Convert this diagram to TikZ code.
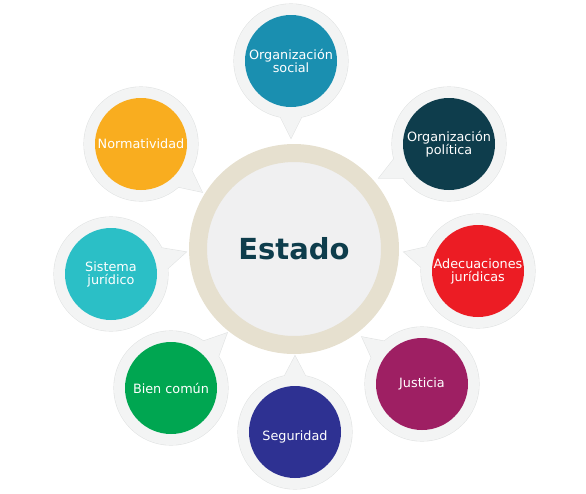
\documentclass[tikz,border=0pt]{standalone}
\usepackage{fontspec}
\setmainfont{DejaVu Sans}
\usetikzlibrary{calc}

\definecolor{bubblegray}{HTML}{F3F4F4}
\definecolor{edgegray}{HTML}{E2E4E4}
\definecolor{ringbeige}{HTML}{E6E0CF}
\definecolor{innergray}{HTML}{F0F0F1}
\definecolor{estadoblue}{HTML}{0E3D4C}
\definecolor{socblue}{HTML}{1A8FB0}
\definecolor{polblue}{HTML}{0E3D4C}
\definecolor{adecred}{HTML}{EC1C24}
\definecolor{justpurple}{HTML}{9E1F63}
\definecolor{segblue}{HTML}{2E3192}
\definecolor{biengreen}{HTML}{00A651}
\definecolor{sistcyan}{HTML}{2BBFC6}
\definecolor{normorange}{HTML}{F9AD1F}

\begin{document}
\begin{tikzpicture}[
    x=1pt, y=-1pt,
    bubble/.style={circle, minimum size=114pt, inner sep=0pt},
    topic/.style={circle, minimum size=92pt, inner sep=0pt, text=white, align=center, font=\fontsize{12.8}{13}\selectfont},
    hub/.style={circle, minimum size=192pt, inner sep=0pt, draw=ringbeige, line width=18pt, fill=innergray, text=estadoblue, font=\fontsize{29}{29}\selectfont\bfseries}
]
\useasboundingbox (0,0) rectangle (586,493);

% bubbles with tails
\foreach \s/\px/\py/\tx/\ty in {1/291/61/291/138, 2/449/144/379/178, 3/478/271/404/252, 4/422/384/362/337,
                                5/295/432/295/356, 6/171/388/227/333, 7/111/274/186/252, 8/141/144/202/192} {
  \coordinate (tip\s) at (\tx,\ty);
  \node[bubble, draw=edgegray, line width=1.2pt] (b\s) at (\px,\py) {};
  \draw[edgegray, line width=1.2pt] ($(b\s)!52pt!15:(tip\s)$) -- (tip\s) -- ($(b\s)!52pt!-15:(tip\s)$);
}
\foreach \s in {1,...,8} {
  \fill[bubblegray] (b\s) circle (57pt);
  \fill[bubblegray] ($(b\s)!52pt!15:(tip\s)$) -- (tip\s) -- ($(b\s)!52pt!-15:(tip\s)$) -- cycle;
}

\node[hub] (estado) at (294,249) {Estado};

% topics
\node[topic, fill=socblue] (social) at (b1) {Organización\\social};
\node[topic, fill=polblue] (politica) at (b2) {Organización\\política};
\node[topic, fill=adecred] (adecuaciones) at (b3) {Adecuaciones\\jurídicas};
\node[topic, fill=justpurple] (justicia) at (b4) {Justicia};
\node[topic, fill=segblue] (seguridad) at (b5) {};
\node[text=white, font=\fontsize{12.8}{13}\selectfont] (seguridadtxt) at ($(b5)+(0,5)$) {Seguridad};
\node[topic, fill=biengreen] (bien) at (b6) {Bien común};
\node[topic, fill=sistcyan] (sistema) at (b7) {Sistema\\jurídico};
\node[topic, fill=normorange] (normatividad) at (b8) {Normatividad};

\end{tikzpicture}
\end{document}
